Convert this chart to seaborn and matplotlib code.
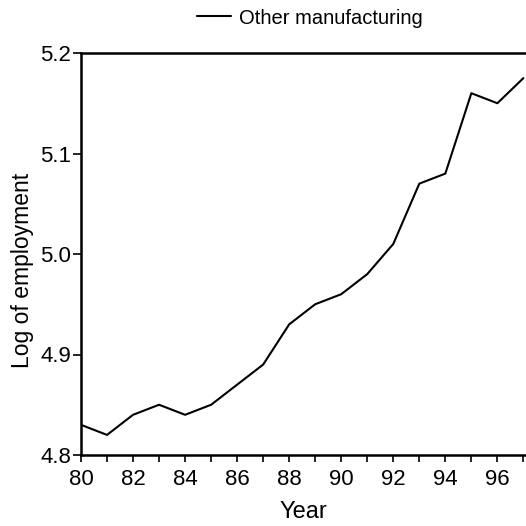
import matplotlib
matplotlib.use("Agg")
import matplotlib.pyplot as plt
from matplotlib.ticker import MultipleLocator, FixedLocator
import seaborn as sns
import pandas as pd

years = list(range(80, 98))
log_employment = [4.83, 4.82, 4.84, 4.85, 4.84, 4.85, 4.87, 4.89, 4.93,
                  4.95, 4.96, 4.98, 5.01, 5.07, 5.08, 5.16, 5.15, 5.175]
series_name = "Other manufacturing"
x_ticks = [80, 82, 84, 86, 88, 90, 92, 94, 96]
y_ticks = [4.8, 4.9, 5.0, 5.1, 5.2]

sns.set_style("ticks")
plt.rcParams["font.family"] = ["Liberation Sans", "DejaVu Sans"]
plt.rcParams["text.color"] = "black"
plt.rcParams["axes.labelcolor"] = "black"
plt.rcParams["xtick.color"] = "black"
plt.rcParams["ytick.color"] = "black"

df = pd.DataFrame({"Year": years, "Log of employment": log_employment,
                   "series": series_name})

fig = plt.figure(figsize=(5.26, 5.26), dpi=100)
ax = fig.add_axes([81 / 526, 1 - 455 / 526, 445 / 526, 402 / 526])

sns.lineplot(data=df, x="Year", y="Log of employment", hue="series",
             palette=["black"], linewidth=1.5, ax=ax)

ax.set_xlim(80, 97.1)
ax.set_ylim(4.8, 5.2)
ax.xaxis.set_major_locator(FixedLocator(x_ticks))
ax.xaxis.set_minor_locator(MultipleLocator(1))
ax.yaxis.set_major_locator(FixedLocator(y_ticks))
ax.set_xticklabels([str(t) for t in x_ticks])
ax.set_yticklabels([f"{t:.1f}" for t in y_ticks])
ax.tick_params(axis="x", which="both", direction="out", length=5,
               width=1.2, labelsize=16, pad=5)
ax.tick_params(axis="y", which="both", direction="out", length=6,
               width=1.2, labelsize=16, pad=1)

for side in ("left", "top", "bottom"):
    ax.spines[side].set_linewidth(1.8)
    ax.spines[side].set_color("black")
ax.spines["right"].set_visible(False)

ax.set_xlabel("Year", fontsize=17, labelpad=8)
ax.set_ylabel("Log of employment", fontsize=16.5)
ax.yaxis.set_label_coords(-0.105, 0.46)

leg = ax.legend(loc="center", bbox_to_anchor=(0.515, 1.087), frameon=False,
                fontsize=14.5, handlelength=1.7, handletextpad=0.4)
leg.set_title(None)

fig.savefig("out.png", dpi=100)
